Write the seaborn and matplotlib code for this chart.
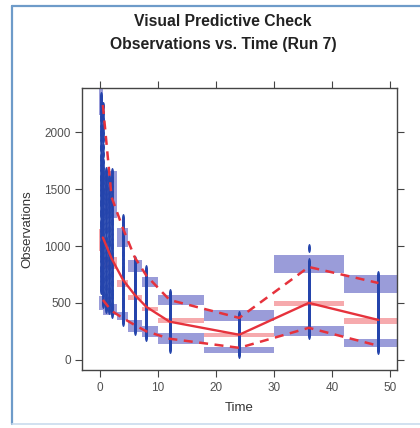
import matplotlib
matplotlib.use("Agg")
import numpy as np
import matplotlib.pyplot as plt
from matplotlib.lines import Line2D
from matplotlib.path import Path
import seaborn as sns
import pandas as pd

# ---------------- data ----------------
obs_times = [0.25, 0.5, 1.0, 1.5, 2, 4, 6, 8, 12, 24, 36, 48]
obs_values = [
    [2320, 2290, 2255, 2230, 2190, 2140, 2105, 2060, 2010, 1975, 1930, 1880, 1850, 1795, 1760, 1710,
     1665, 1620, 1580, 1535, 1490, 1450, 1395, 1360, 1310, 1270, 1215, 1180, 1130, 1090, 1040, 1000,
     955, 910, 870, 820, 780, 735, 690, 650, 610],
    [2230, 2170, 2120, 2050, 1990, 1940, 1870, 1810, 1740, 1690, 1640, 1600, 1555, 1505, 1470, 1420,
     1375, 1330, 1285, 1240, 1195, 1150, 1110, 1065, 1020, 980, 935, 895, 850, 805, 765, 720, 680,
     640, 600, 560, 520, 490],
    [1660, 1620, 1585, 1540, 1500, 1455, 1415, 1370, 1330, 1290, 1245, 1205, 1160, 1120, 1075, 1035,
     990, 950, 905, 865, 825, 780, 740, 700, 660, 620, 580, 540, 505, 470, 445],
    [1600, 1560, 1510, 1470, 1425, 1385, 1340, 1300, 1255, 1215, 1170, 1130, 1090, 1045, 1005, 960,
     920, 880, 835, 795, 755, 715, 675, 635, 595, 555, 520, 480, 440],
    [1650, 1610, 1570, 1525, 1485, 1440, 1400, 1360, 1315, 1275, 1230, 1190, 1150, 1105, 1065, 1020,
     985, 940, 900, 860, 815, 775, 735, 695, 655, 615, 575, 540, 500, 465, 430, 400],
    [1250, 1215, 1185, 1150, 1115, 1080, 1050, 1015, 985, 950, 920, 885, 855, 820, 790, 760, 725,
     695, 665, 635, 605, 575, 545, 515, 490, 460, 430, 400, 375, 350, 330],
    [880, 855, 830, 805, 780, 755, 730, 705, 680, 655, 630, 605, 580, 560, 535, 510, 490, 465, 445,
     420, 400, 380, 355, 335, 310, 290, 270, 250],
    [800, 775, 750, 725, 700, 675, 650, 625, 600, 580, 555, 530, 510, 485, 465, 440, 420, 400, 380,
     360, 340, 315, 295, 275, 255, 235, 215, 200],
    [590, 570, 548, 527, 505, 485, 463, 442, 420, 400, 380, 360, 340, 320, 300, 280, 262, 243, 225,
     205, 187, 168, 150, 132, 115, 97],
    [395, 378, 360, 342, 325, 307, 290, 273, 256, 240, 223, 207, 190, 174, 158, 142, 127, 111, 96,
     81, 66, 50],
    [985, 860, 838, 815, 792, 770, 748, 725, 703, 680, 660, 638, 616, 595, 573, 552, 530, 510, 490,
     468, 448, 428, 408, 388, 368, 348, 328, 308, 290, 270, 252, 235, 220],
    [745, 722, 700, 677, 655, 633, 612, 590, 569, 548, 527, 507, 486, 466, 446, 426, 407, 387, 368,
     349, 330, 311, 293, 274, 256, 238, 220, 202, 185, 168, 150, 133, 116, 100, 88],
]

# bins and simulated-percentile confidence intervals
bin_start = [-0.2, 0.5, 2.9, 4.8, 7.2, 10, 18, 30, 42]
bin_end = [0.5, 2.9, 4.8, 7.2, 10, 18, 30, 42, 56]
p95_ci_low = [2150, 1250, 990, 770, 640, 482, 342, 763, 588]
p95_ci_high = [2450, 1660, 1160, 877, 728, 570, 438, 921, 746]
p50_ci_low = [960, 800, 640, 526, 430, 325, 197, 474, 316]
p50_ci_high = [1150, 900, 702, 570, 465, 368, 237, 518, 368]
p05_ci_low = [440, 395, 351, 246, 202, 140, 61, 211, 114]
p05_ci_high = [560, 490, 421, 351, 298, 237, 114, 298, 184]

# observed percentiles
pct_time = [0.5, 2, 4, 6, 8, 12, 24, 36, 48]
obs_p50 = [1075, 890, 700, 570, 465, 335, 220, 500, 350]
obs_p95 = [2240, 1430, 1150, 900, 740, 526, 368, 816, 675]
obs_p05 = [526, 430, 365, 305, 250, 185, 105, 281, 123]

x_ticks = [0, 10, 20, 30, 40, 50]
y_ticks = [0, 500, 1000, 1500, 2000]

# ---------------- style ----------------
sns.set_style("white")
plt.rcParams["font.family"] = ["Liberation Sans", "DejaVu Sans"]

BLUE_BAND = "#9a9cd9"
PINK_BAND = "#f6aaad"
RED = "#e6323c"
DOT = "#2444ac"

# tall, narrow dot marker (vertical ellipse)
_a = np.linspace(0, 2 * np.pi, 25)
TALL_DOT = Path(np.column_stack([0.33 * np.cos(_a), np.sin(_a)]), closed=True)

fig = plt.figure(figsize=(4.2, 4.28), dpi=100)
ax = fig.add_axes([82 / 420, 1 - 370 / 428, 315 / 420, 282 / 428])

widths = [e - s for s, e in zip(bin_start, bin_end)]
for lo, hi, col in [(p95_ci_low, p95_ci_high, BLUE_BAND),
                    (p50_ci_low, p50_ci_high, PINK_BAND),
                    (p05_ci_low, p05_ci_high, BLUE_BAND)]:
    ax.bar(bin_start, [h - l for l, h in zip(lo, hi)], width=widths, bottom=lo,
           align="edge", color=col, edgecolor="none", zorder=1)

rows = []
for t, vals in zip(obs_times, obs_values):
    for v in vals:
        rows.append((t, v))
df = pd.DataFrame(rows, columns=["Time", "Observations"])
sns.scatterplot(data=df, x="Time", y="Observations", ax=ax, color=DOT, s=42,
                marker=TALL_DOT, linewidth=0, legend=False, zorder=3)

pdf = pd.DataFrame({"Time": pct_time, "p50": obs_p50, "p95": obs_p95, "p05": obs_p05})
sns.lineplot(data=pdf, x="Time", y="p50", ax=ax, color=RED, lw=1.7,
             estimator=None, sort=False, zorder=4)
for col in ["p95", "p05"]:
    sns.lineplot(data=pdf, x="Time", y=col, ax=ax, color=RED, lw=1.8,
                 estimator=None, sort=False, zorder=4)
    ax.lines[-1].set_dashes([3.6, 2.6])

ax.set_xlim(-3.1, 51.2)
ax.set_ylim(-90, 2390)
ax.set_xticks(x_ticks)
ax.set_yticks(y_ticks)
ax.tick_params(axis="both", which="both", direction="out", length=5, width=0.8,
               color="#444444", labelsize=8.5, labelcolor="#505050",
               top=True, right=True, bottom=True, left=True,
               labeltop=False, labelright=False)
ax.tick_params(axis="y", pad=3)
ax.tick_params(axis="x", pad=3.5)
for s in ax.spines.values():
    s.set_color("#444444")
    s.set_linewidth(1.0)
    s.set_visible(True)

ax.set_xlabel("Time", fontsize=9.5, color="#333333", labelpad=6)
ax.set_ylabel("Observations", fontsize=9.5, color="#333333", labelpad=8)

fig.text(223 / 420, 1 - 22 / 428, "Visual Predictive Check", ha="center", va="center",
         fontsize=11.3, fontweight="bold", color="#222222")
fig.text(223 / 420, 1 - 45 / 428, "Observations vs. Time (Run 7)", ha="center", va="center",
         fontsize=11.3, fontweight="bold", color="#222222")

# outer frame
fig.add_artist(Line2D([12 / 420, 12 / 420], [4 / 428, 1 - 6 / 428], transform=fig.transFigure,
                      color="#6e9bc9", lw=1.6))
fig.add_artist(Line2D([12 / 420, 1.0], [1 - 6 / 428, 1 - 6 / 428], transform=fig.transFigure,
                      color="#6e9bc9", lw=1.6))
fig.add_artist(Line2D([12 / 420, 1.0], [4 / 428, 4 / 428], transform=fig.transFigure,
                      color="#c9dcee", lw=1.2))

fig.savefig("out.png", dpi=100)
